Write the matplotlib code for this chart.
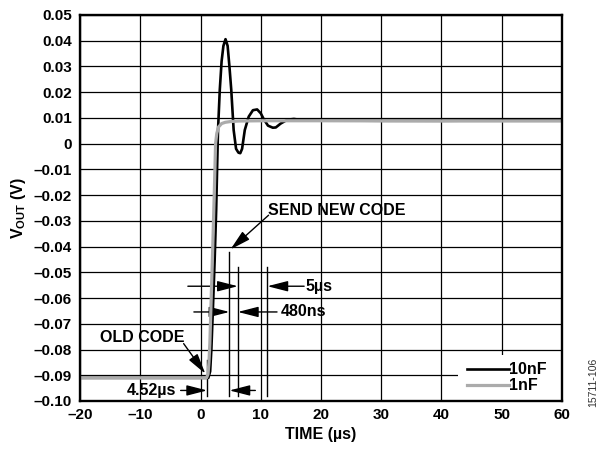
import matplotlib
matplotlib.use("Agg")
import matplotlib.pyplot as plt
from matplotlib.patches import Rectangle

plt.rcParams['font.family'] = ['Liberation Sans', 'DejaVu Sans']
plt.rcParams['font.weight'] = 'bold'
plt.rcParams['mathtext.fontset'] = 'custom'
plt.rcParams['mathtext.rm'] = 'Liberation Sans:bold'
plt.rcParams['mathtext.bf'] = 'Liberation Sans:bold'

# 10nF load (black)
t_10nf = [-20, 1.3, 1.6, 1.8, 2.05, 2.35, 2.6, 2.75, 2.9, 3.2, 3.5, 3.8, 4.15,
          4.5, 4.8, 5.1, 5.5, 5.9, 6.3, 6.6, 6.9, 7.35, 8.0, 8.7, 9.4, 10.0,
          10.5, 11.2, 12.0, 12.5, 13.3, 14.4, 15.5, 17, 20, 30, 40, 50, 60]
v_10nf = [-0.0910, -0.0910, -0.0885, -0.080, -0.0647, -0.045, -0.0258, -0.010,
          0.005, 0.021, 0.032, 0.038, 0.0406, 0.038, 0.030, 0.021, 0.0053,
          -0.002, -0.0035, -0.0037, -0.002, 0.0053, 0.0105, 0.013, 0.0133,
          0.0118, 0.0095, 0.0070, 0.0062, 0.0063, 0.0078, 0.0093, 0.0096,
          0.0091, 0.0090, 0.0089, 0.0089, 0.0090, 0.0090]

# 1nF load (grey)
t_1nf = [-20, 1.0, 1.25, 1.4, 1.55, 1.8, 2.05, 2.3, 2.5, 2.7, 3.0, 3.5, 4.1,
         5.0, 6.35, 10, 20, 40, 60]
v_1nf = [-0.0910, -0.0910, -0.0895, -0.085, -0.0776, -0.058, -0.0387, -0.018,
         0.0, 0.004, 0.0065, 0.0078, 0.0083, 0.0086, 0.0088, 0.0089, 0.0089,
         0.0088, 0.0088]

x_ticks = list(range(-20, 61, 10))
y_ticks = [0.05, 0.04, 0.03, 0.02, 0.01, 0, -0.01, -0.02, -0.03, -0.04,
           -0.05, -0.06, -0.07, -0.08, -0.09, -0.10]

fig = plt.figure(figsize=(5.99, 4.53), dpi=100)
ax = fig.add_axes([0.1336, 0.1148, 0.8046, 0.8521])

ax.plot(t_10nf, v_10nf, color='black', lw=1.9, label='10nF', zorder=3)
ax.plot(t_1nf, v_1nf, color='#ababab', lw=2.3, label='1nF', zorder=4)

ax.set_xlim(-20, 60)
ax.set_ylim(-0.10, 0.05)
ax.set_xticks(x_ticks)
ax.set_yticks(y_ticks)
ax.set_xticklabels([str(v).replace('-', '\u2013') for v in x_ticks])
ax.set_yticklabels(['0' if v == 0 else f'{v:.2f}'.replace('-', '\u2013') for v in y_ticks])
ax.tick_params(length=0, labelsize=11)
ax.tick_params(axis='y', pad=6)
ax.tick_params(axis='x', pad=5)
ax.grid(True, color='black', lw=0.9)
ax.set_axisbelow(True)
for s in ax.spines.values():
    s.set_linewidth(1.7)
    s.set_zorder(6)

ax.set_xlabel('TIME (\u00b5s)', fontsize=11.5, fontweight='bold', labelpad=4)
ax.set_ylabel(r'V$_{\mathrm{OUT}}$ (V)', fontsize=11.5, fontweight='bold', labelpad=4)

fs = 11.5
arr = dict(arrowstyle='-|>,head_length=1.25,head_width=0.32', color='black',
           lw=1, shrinkA=0, shrinkB=0, mutation_scale=10)

# marker lines
ax.plot([1.1, 1.1], [-0.084, -0.098], color='black', lw=1)
ax.plot([4.8, 4.8], [-0.042, -0.098], color='black', lw=1)
ax.plot([6.2, 6.2], [-0.048, -0.098], color='black', lw=1)
ax.plot([11.1, 11.1], [-0.048, -0.098], color='black', lw=1)

# 5us
ax.annotate('', xy=(6.2, -0.0554), xytext=(-2.1, -0.0554), arrowprops=arr)
ax.annotate('', xy=(11.1, -0.0554), xytext=(17.2, -0.0554), arrowprops=arr)
ax.text(17.4, -0.0554, '5\u00b5s', fontsize=fs, va='center', ha='left')

# 480ns
ax.annotate('', xy=(4.8, -0.0654), xytext=(-1.1, -0.0654), arrowprops=arr)
ax.annotate('', xy=(6.2, -0.0654), xytext=(12.7, -0.0654), arrowprops=arr)
ax.text(13.3, -0.0654, '480ns', fontsize=fs, va='center', ha='left')

# 4.52us
ax.annotate('', xy=(1.1, -0.0959), xytext=(-3.3, -0.0959), arrowprops=arr)
ax.annotate('', xy=(4.8, -0.0959), xytext=(9.1, -0.0959), arrowprops=arr)
ax.text(-4.0, -0.0959, '4.52\u00b5s', fontsize=fs, va='center', ha='right')

# OLD CODE / SEND NEW CODE
ax.annotate('', xy=(0.8, -0.0894), xytext=(-2.8, -0.0777), arrowprops=arr)
ax.text(-16.7, -0.0755, 'OLD CODE', fontsize=fs, va='center', ha='left')
ax.annotate('', xy=(4.97, -0.0411), xytext=(11.3, -0.0278), arrowprops=arr)
ax.text(11.2, -0.0258, 'SEND NEW CODE', fontsize=fs, va='center', ha='left')

# white patch behind the legend
ax.add_patch(Rectangle((0.784, 0), 0.216, 0.119, transform=ax.transAxes,
                       facecolor='white', edgecolor='none', zorder=5))
leg = ax.legend(loc='lower right', bbox_to_anchor=(0.969, 0.02), fontsize=fs,
                frameon=False, handlelength=2.6, handletextpad=0.05,
                labelspacing=0.05, borderaxespad=0.0, borderpad=0.0)
leg.set_zorder(7)

fig.text(0.991, 0.155, '15711-106', rotation=90, fontsize=7.5,
         fontweight='normal', ha='center', va='center', color='#333333')

fig.savefig('out.png', dpi=100)
